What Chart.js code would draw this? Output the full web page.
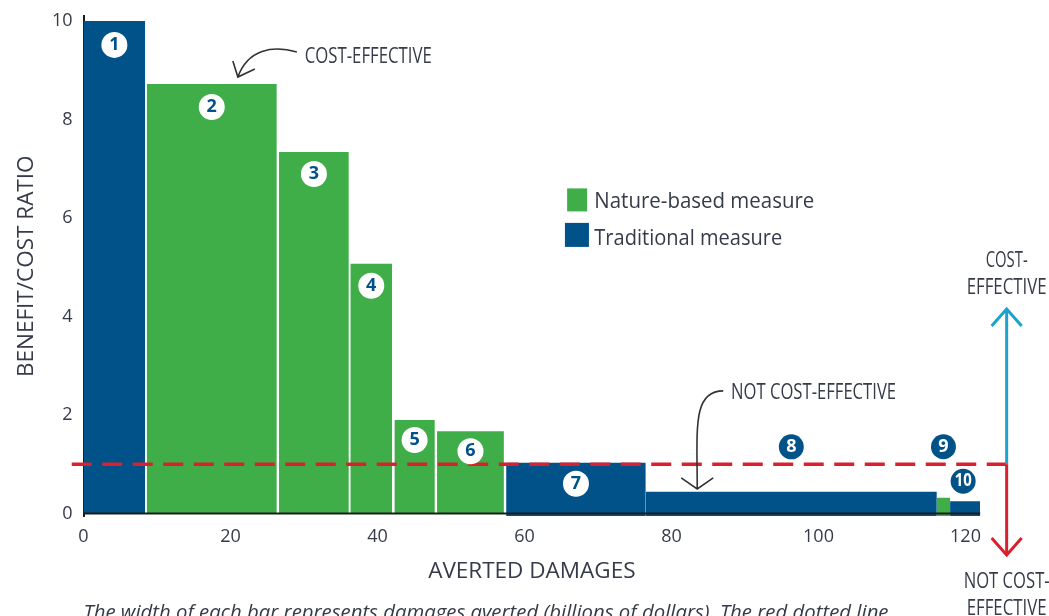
<!DOCTYPE html>
<html>
<head>
<meta charset="utf-8">
<title>Benefit/cost ratio</title>
<script src="https://cdn.jsdelivr.net/npm/chart.js@4/dist/chart.umd.min.js"></script>
<style>
html, body { margin: 0; padding: 0; background: #fff; overflow: hidden; }
canvas { display: block; filter: blur(0.5px); }
</style>
</head>
<body>
<canvas id="chart" width="1049" height="616"></canvas>
<script>
// values
var barStarts = [0, 8.6, 26.6, 36.3, 42.3, 48.1, 57.5, 76.5, 116.1, 117.9];
var barEnds = [8.4, 26.3, 36.1, 42, 47.8, 57.2, 76.5, 116.1, 117.9, 122];
var ratios = [10, 8.72, 7.34, 5.07, 1.9, 1.67, 1.03, 0.44, 0.32, 0.25];
var barBases = [0, 0, 0, 0, 0, 0, -0.05, -0.05, -0.05, -0.05];
var measures = ['t', 'n', 'n', 'n', 'n', 'n', 't', 't', 'n', 't'];
var xTicks = [0, 20, 40, 60, 80, 100, 120];
var yTicks = [0, 2, 4, 6, 8, 10];
var thresholdX = [-1.6, 127];
var thresholdY = [1, 1];

var BLUE = '#005288';
var GREEN = '#3fae49';
var RED = '#d9202f';
var CYAN = '#1ba3cc';
var TEXT = '#353b48';
var FONT = '"Open Sans"';

var datasets = [];
datasets.push({
    data: [{x: thresholdX[0], y: thresholdY[0]}, {x: thresholdX[1], y: thresholdY[1]}],
    borderColor: RED, borderWidth: 3.5, borderDash: [20, 10.5], pointRadius: 0, showLine: true, clip: false
});
datasets.push({
    data: [{x: 0, y: 0}, {x: barEnds[9], y: 0}],
    borderColor: '#1c1c1c', borderWidth: 2, pointRadius: 0, showLine: true, clip: false
});
for (var i = 0; i < ratios.length; i++) {
    var color = measures[i] == 'n' ? GREEN : BLUE;
    datasets.push({
        data: [{x: barStarts[i], y: ratios[i]}, {x: barEnds[i], y: ratios[i]}],
        showLine: true, pointRadius: 0, borderWidth: 0,
        backgroundColor: color,
        fill: {value: barBases[i]}
    });
}

// number badges: offset in px from the middle of the top of each bar
var badgeDx = [0, 0, 0, 0, 0, 0, 0, 0, 0, -2];
var badgeDy = [24, 23, 22, 22, 20, 20, 21, -45, -51, -20];

function text(ctx, str, x, y, size, width, align, style) {
    ctx.font = (style || '') + ' ' + size + 'px ' + FONT;
    ctx.fillStyle = TEXT;
    ctx.textAlign = align || 'left';
    ctx.textBaseline = 'middle';
    ctx.fillText(str, x, y, width);
}

function stroke(ctx, color, width, fn) {
    ctx.strokeStyle = color;
    ctx.lineWidth = width;
    ctx.lineCap = 'butt';
    ctx.beginPath();
    fn();
    ctx.stroke();
}

var annotations = {
    id: 'annotations',
    afterDatasetsDraw: function(chart) {
        var ctx = chart.ctx;
        var sx = chart.scales.x, sy = chart.scales.y;
        function X(v) { return sx.getPixelForValue(v); }
        function Y(v) { return sy.getPixelForValue(v); }
        ctx.save();

        // badges
        for (var i = 0; i < ratios.length; i++) {
            var cx = X((barStarts[i] + barEnds[i]) / 2) + badgeDx[i];
            var cy = Y(ratios[i]) + badgeDy[i];
            var dark = i >= 7;
            ctx.fillStyle = dark ? BLUE : '#fff';
            ctx.beginPath();
            ctx.arc(cx, cy, dark ? 12.5 : 13, 0, Math.PI * 2);
            ctx.fill();
            ctx.font = 'bold 18px ' + FONT;
            ctx.fillStyle = dark ? '#fff' : BLUE;
            ctx.textAlign = 'center';
            ctx.textBaseline = 'middle';
            ctx.fillText(String(i + 1), cx, cy, 17);
        }

        // legend
        ctx.fillStyle = GREEN;
        ctx.fillRect(X(65.8), Y(6.6), 20, 23);
        ctx.fillStyle = BLUE;
        ctx.fillRect(X(65.5), Y(5.9), 24, 24);
        text(ctx, 'Nature-based measure', X(69.5), Y(6.32), 21, 220);
        text(ctx, 'Traditional measure', X(69.5), Y(5.58), 21, 188);

        // callouts
        text(ctx, 'COST-EFFECTIVE', X(30.1), Y(9.27), 21, 127);
        var tx = X(21), ty = Y(8.86);
        stroke(ctx, '#333', 1.6, function() {
            ctx.moveTo(tx + 59, ty - 25);
            ctx.bezierCurveTo(tx + 35, ty - 32, tx + 10, ty - 28, tx, ty);
            ctx.moveTo(tx - 5, ty - 16);
            ctx.lineTo(tx, ty);
            ctx.lineTo(tx + 17, ty - 8);
        });

        text(ctx, 'NOT COST-EFFECTIVE', X(88.1), Y(2.44), 21, 165);
        tx = X(83.5); ty = Y(0.5);
        stroke(ctx, '#333', 1.6, function() {
            ctx.moveTo(tx + 26, ty - 98);
            ctx.bezierCurveTo(tx - 5, ty - 98, tx, ty - 60, tx, ty);
            ctx.moveTo(tx - 16, ty - 11);
            ctx.lineTo(tx, ty);
            ctx.lineTo(tx + 16, ty - 11);
        });

        // right hand arrows
        var ax = X(125.6), a0 = Y(1), a1 = Y(4.15), a2 = Y(-0.84);
        stroke(ctx, CYAN, 3, function() {
            ctx.moveTo(ax, a0);
            ctx.lineTo(ax, a1);
            ctx.moveTo(ax - 15, a1 + 17);
            ctx.lineTo(ax, a1);
            ctx.lineTo(ax + 15, a1 + 17);
        });
        stroke(ctx, RED, 3, function() {
            ctx.moveTo(ax, a0);
            ctx.lineTo(ax, a2);
            ctx.moveTo(ax - 15, a2 - 17);
            ctx.lineTo(ax, a2);
            ctx.lineTo(ax + 15, a2 - 17);
        });
        text(ctx, 'COST-', ax, Y(5.12), 21, 42, 'center');
        text(ctx, 'EFFECTIVE', ax, Y(4.58), 21, 80, 'center');
        text(ctx, 'NOT COST-', ax, Y(-1.39), 21, 86, 'center');
        text(ctx, 'EFFECTIVE', ax, Y(-1.94), 21, 80, 'center');

        // caption, cut by the bottom of the picture
        text(ctx, 'The width of each bar represents damages averted (billions of dollars). The red dotted line', X(0), Y(-2.03), 20.4, 805, 'left', 'italic');
        ctx.restore();
    }
};

var myChart = new Chart(document.getElementById('chart').getContext('2d'), {
    type: 'scatter',
    data: {datasets: datasets},
    plugins: [annotations],
    options: {
        responsive: false,
        animation: false,
        layout: {padding: {top: 16, right: 68.8, bottom: 0, left: 0}},
        plugins: {legend: {display: false}, tooltip: {enabled: false}},
        scales: {
            x: {
                type: 'linear', min: 0, max: 122,
                afterBuildTicks: function(scale) {
                    scale.ticks = xTicks.map(function(v) { return {value: v}; });
                },
                afterFit: function(scale) { scale.height = 99.5; },
                grid: {display: false},
                border: {display: false},
                ticks: {
                    autoSkip: false, maxRotation: 0, padding: 2, color: TEXT,
                    font: {family: FONT, size: 18}
                },
                title: {
                    display: true, text: 'AVERTED DAMAGES', color: TEXT,
                    font: {family: FONT, size: 22.5}, padding: {top: 0, bottom: 31}
                }
            },
            y: {
                min: -0.06, max: 10.1,
                afterBuildTicks: function(scale) {
                    scale.ticks = yTicks.map(function(v) { return {value: v}; });
                },
                afterFit: function(scale) {
                    scale.width = 83.5;
                    scale.paddingTop = 0;
                    scale.paddingBottom = 0;
                },
                grid: {display: false},
                border: {display: true, color: '#1c1c1c', width: 2},
                ticks: {
                    autoSkip: false, padding: 3, color: TEXT,
                    font: {family: FONT, size: 18}
                },
                title: {
                    display: true, text: 'BENEFIT/COST RATIO', color: TEXT,
                    font: {family: FONT, size: 22.5}, padding: {top: 13, bottom: 0}
                }
            }
        }
    }
});
</script>
</body>
</html>
